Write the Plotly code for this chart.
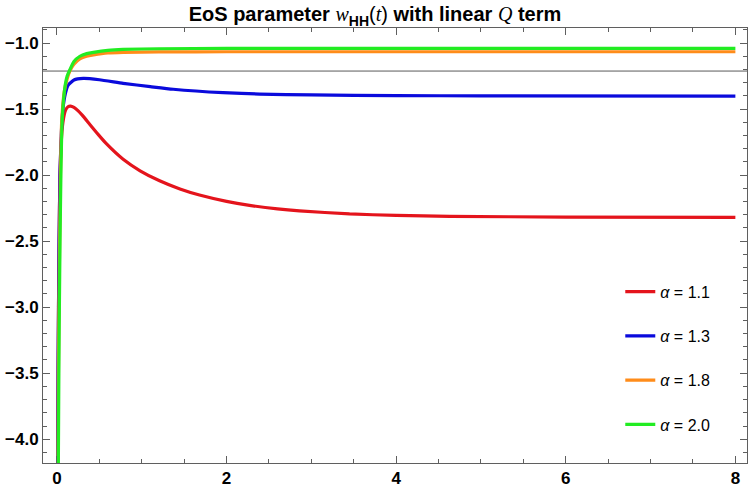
import plotly.graph_objects as go

# ---- data ----
alpha_labels = ["1.1", "1.3", "1.8", "2.0"]

t_red = [0.008, 0.013, 0.018, 0.025, 0.035, 0.05, 0.07, 0.1, 0.13, 0.16, 0.2, 0.25, 0.3, 0.39, 0.49,
         0.585, 0.78, 0.98, 1.21, 1.45, 1.68, 2.0, 2.27, 2.6, 2.86, 3.45, 4.0, 4.63, 6.0, 8.0]
w_red = [-4.18, -3.5, -3.0, -2.5, -2.0, -1.75, -1.6, -1.51, -1.482, -1.477, -1.487, -1.513, -1.548, -1.618, -1.695,
         -1.764, -1.880, -1.967, -2.043, -2.105, -2.151, -2.199, -2.229, -2.256, -2.271, -2.294, -2.305, -2.312, -2.318, -2.32]

t_blue = [0.008, 0.013, 0.018, 0.025, 0.035, 0.05, 0.07, 0.1, 0.13, 0.2, 0.31, 0.5, 0.78,
          1.1, 1.37, 1.96, 2.39, 3.0, 4.0, 5.0, 8.0]
w_blue = [-4.18, -3.5, -3.0, -2.5, -2.0, -1.7, -1.5, -1.38, -1.32, -1.28, -1.268, -1.278, -1.305,
          -1.33, -1.35, -1.376, -1.386, -1.393, -1.398, -1.4, -1.402]

t_orange = [0.012, 0.017, 0.023, 0.031, 0.041, 0.055, 0.085, 0.12, 0.153, 0.2, 0.27, 0.35, 0.43,
            0.6, 0.78, 1.2, 2.0, 8.0]
w_orange = [-4.18, -3.5, -3.0, -2.5, -2.0, -1.6, -1.37, -1.27, -1.21, -1.16, -1.12, -1.10, -1.09,
            -1.075, -1.07, -1.067, -1.066, -1.066]

t_green = [0.016, 0.022, 0.028, 0.036, 0.046, 0.06, 0.09, 0.12, 0.153, 0.2, 0.27, 0.35, 0.43,
           0.6, 0.78, 1.2, 2.0, 4.0, 8.0]
w_green = [-4.18, -3.5, -3.0, -2.5, -2.0, -1.6, -1.35, -1.25, -1.2, -1.14, -1.10, -1.08, -1.07,
           -1.055, -1.048, -1.043, -1.04, -1.04, -1.04]

axis_line_y = -1.212
x_ticks = [0, 2, 4, 6, 8]
y_ticks = [-1.0, -1.5, -2.0, -2.5, -3.0, -3.5, -4.0]

series = [
    (t_red, w_red, "rgb(228,20,28)"),
    (t_blue, w_blue, "rgb(10,10,220)"),
    (t_orange, w_orange, "rgb(255,140,26)"),
    (t_green, w_green, "rgb(34,236,34)"),
]

fig = go.Figure()
for i, (tx, wy, col) in enumerate(series):
    fig.add_trace(go.Scatter(
        x=tx, y=wy, mode="lines", line=dict(color=col, width=3.2, shape="spline", smoothing=0.5),
        name="<i>α</i> = " + alpha_labels[i], legendgroup=str(i),
    ))

fig.add_hline(y=axis_line_y, line=dict(color="rgb(90,90,90)", width=1), layer="below")

serif = "font-family:'Liberation Serif';font-weight:normal;font-style:italic"
title = ("<b>EoS parameter </b>"
         f"<span style=\"{serif}\">w</span>"
         "<b><sub>HH</sub></b>(" f"<span style=\"{serif}\">t</span>)"
         "<b> with linear </b>"
         f"<span style=\"{serif}\">Q</span>"
         "<b> term</b>")

frame = "rgb(95,95,95)"
axis_common = dict(
    showgrid=False, zeroline=False, showline=True, linecolor=frame, linewidth=1,
    mirror="ticks", ticks="inside", tickcolor=frame, ticklen=7, tickwidth=1,
    tickfont=dict(family="Liberation Sans", size=17, color="black"),
)
fig.update_layout(
    width=750, height=490,
    margin=dict(l=43, r=3, t=28, b=27),
    paper_bgcolor="white", plot_bgcolor="white",
    title=dict(text=title, x=0.5, xanchor="center", y=0.985, yanchor="top",
               font=dict(family="Liberation Sans", size=20, color="black")),
    xaxis=dict(range=[-0.165, 8.137], tickvals=x_ticks,
               ticktext=[f"<b>{v}</b>" for v in x_ticks],
               minor=dict(dtick=0.5, tick0=0, ticks="inside", ticklen=4, tickcolor=frame),
               **axis_common),
    yaxis=dict(range=[-4.18, -0.886], tickvals=y_ticks,
               ticktext=[f"<b>−{abs(v):.1f}</b>" for v in y_ticks],
               minor=dict(dtick=0.1, tick0=0, ticks="inside", ticklen=4, tickcolor=frame),
               **axis_common),
    legend=dict(x=0.82, xanchor="left", y=0.433, yanchor="top", bgcolor="rgba(0,0,0,0)",
                font=dict(family="Liberation Sans", size=16, color="black"),
                tracegroupgap=20.5, itemwidth=30),
    showlegend=True,
)
fig.write_html("out.html", config={"displayModeBar": False},
               post_script="document.body.style.margin='0';")
